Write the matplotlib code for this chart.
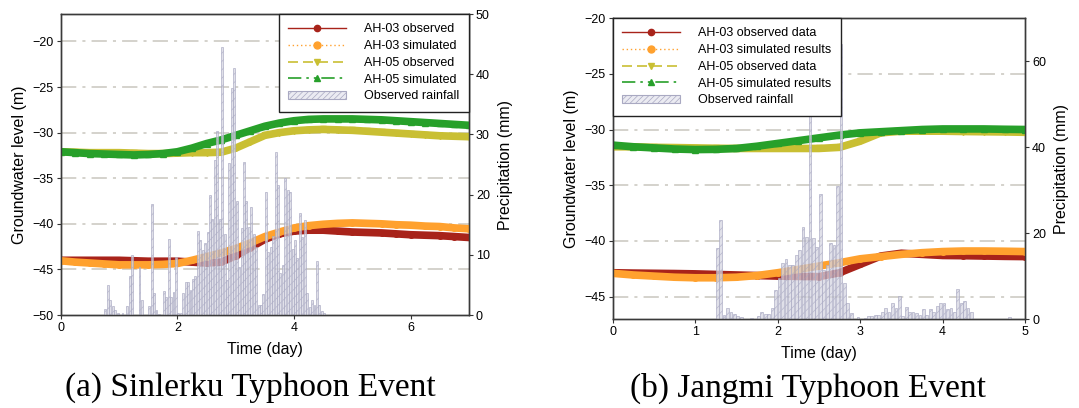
import numpy as np
import matplotlib
matplotlib.use("Agg")
import matplotlib.pyplot as plt
from matplotlib.lines import Line2D
from matplotlib.patches import Patch

plt.rcParams["font.family"] = ["Liberation Sans", "DejaVu Sans"]
plt.rcParams["hatch.linewidth"] = 0.5

# ── (a) Sinlerku: groundwater level (m), sampled every 0.25 day ──
t_a = [0, 0.25, 0.5, 0.75, 1, 1.25, 1.5, 1.75, 2, 2.25, 2.5, 2.75, 3, 3.25, 3.5,
       3.75, 4, 4.25, 4.5, 4.75, 5, 5.25, 5.5, 5.75, 6, 6.25, 6.5, 6.75, 7]
ah03_obs_a = [-44.0, -44.0, -44.0, -44.0, -44.0, -44.05, -44.1, -44.1, -44.1, -44.2, -44.3,
              -44.2, -43.5, -42.6, -41.7, -41.1, -40.8, -40.7, -40.7, -40.8, -40.9, -40.95,
              -41.0, -41.1, -41.2, -41.25, -41.3, -41.4, -41.5]
ah03_sim_a = [-44.05, -44.2, -44.3, -44.4, -44.5, -44.5, -44.5, -44.45, -44.35, -44.0, -43.6,
              -43.2, -42.7, -42.1, -41.4, -40.9, -40.45, -40.2, -40.05, -39.95, -39.9, -39.95,
              -40.0, -40.1, -40.15, -40.25, -40.3, -40.45, -40.55]
ah05_obs_a = [-32.1, -32.15, -32.2, -32.2, -32.2, -32.25, -32.3, -32.3, -32.25, -32.2, -32.2,
              -32.15, -31.7, -31.0, -30.3, -30.0, -29.8, -29.7, -29.65, -29.7, -29.75, -29.85,
              -29.95, -30.05, -30.15, -30.25, -30.35, -30.4, -30.45]
ah05_sim_a = [-32.1, -32.2, -32.3, -32.35, -32.4, -32.45, -32.4, -32.3, -32.1, -31.7, -31.2,
              -30.8, -30.3, -29.8, -29.3, -28.95, -28.7, -28.55, -28.5, -28.5, -28.5, -28.55,
              -28.6, -28.7, -28.8, -28.9, -29.0, -29.1, -29.2]
# hourly rainfall (mm), first value at day 0.75
rain_a_start = 0.75
rain_a = [1.0, 5.0, 2.5, 1.5, 0.8, 0.4, 0.0, 0.4, 0.0, 1.5, 6.5, 10.0, 0.0, 0.0, 8.0, 2.5,
          0.0, 0.0, 1.5, 18.5, 3.6, 0.8, 0.2, 0.0, 4.0, 3.0, 12.6, 3.0, 3.9, 9.7, 0.3, 0.3,
          3.6, 5.5, 5.5, 4.2, 6.0, 6.4, 14.0, 12.5, 10.8, 12.0, 13.8, 20.0, 16.0, 25.7, 30.6,
          16.0, 44.6, 13.5, 5.8, 25.2, 37.7, 41.0, 19.0, 8.0, 14.5, 25.5, 19.0, 14.7, 18.0,
          13.5, 11.3, 1.7, 1.7, 3.5, 20.5, 10.5, 11.3, 13.2, 27.0, 21.6, 6.9, 8.3, 22.7, 20.8,
          20.5, 11.0, 12.5, 9.4, 16.9, 13.0, 15.8, 3.6, 1.4, 2.5, 1.7, 9.0, 1.7, 0.6, 0.3]

# ── (b) Jangmi ──
t_b = [0, 0.25, 0.5, 0.75, 1, 1.25, 1.5, 1.75, 2, 2.25, 2.5, 2.75, 3, 3.25, 3.5,
       3.75, 4, 4.25, 4.5, 4.75, 5]
ah03_obs_b = [-42.85, -42.88, -42.9, -42.92, -42.95, -43.0, -43.05, -43.1, -43.15, -43.18, -43.2,
              -42.85, -42.1, -41.35, -41.1, -41.2, -41.3, -41.32, -41.35, -41.38, -41.4]
ah03_sim_b = [-42.9, -43.05, -43.15, -43.25, -43.3, -43.3, -43.25, -43.1, -42.85, -42.55, -42.25,
              -41.95, -41.6, -41.4, -41.2, -41.05, -40.95, -40.9, -40.9, -40.92, -40.95]
ah05_obs_b = [-31.55, -31.55, -31.6, -31.62, -31.65, -31.68, -31.7, -31.7, -31.7, -31.7, -31.7,
              -31.6, -31.05, -30.3, -30.15, -30.15, -30.15, -30.18, -30.2, -30.22, -30.25]
ah05_sim_b = [-31.4, -31.55, -31.65, -31.75, -31.8, -31.78, -31.7, -31.5, -31.25, -31.0, -30.75,
              -30.5, -30.3, -30.2, -30.1, -30.0, -29.95, -29.95, -29.95, -29.98, -30.0]
rain_b_start = 1.25
rain_b = [16.5, 23.0, 1.0, 2.6, 1.6, 1.2, 0.8, 0.4, 0.0, 0.0, 0.3, 0.0, 0.6, 1.6, 1.2, 1.2,
          2.6, 6.8, 9.6, 13.0, 14.0, 12.6, 12.6, 15.0, 16.0, 21.4, 19.0, 62.0, 18.8, 16.8,
          29.0, 11.4, 12.6, 17.7, 17.3, 31.0, 64.0, 8.4, 3.7, 1.4,
          0.0, 0.4, 0.0, 0.3, 0.6, 0.6,
          0.9, 0.9, 1.7, 2.5, 1.7, 3.8, 2.5, 5.4, 0.6, 2.9, 1.7, 1.7, 1.4, 0.9, 2.3, 0.9,
          2.3, 1.7, 3.0, 3.8, 3.8, 2.3, 2.5, 1.7, 6.9, 3.8, 4.3, 2.5, 1.7,
          0.0, 0.0, 0.0, 0.0, 0.0, 0.0, 0.0, 0.0, 0.0, 0.0, 0.4]

C_RED, C_ORG, C_OLV, C_GRN = "#a8231a", "#ffa12e", "#c9bf33", "#27a02a"
BAR_FC, BAR_EC = "#d6d6e2", "#a9a9c2"
GRID_C = "#c9c6be"


def draw_panel(ax, t, series, rain, rain_start, xlim, ylim, yticks, rlim, rticks):
    ax2 = ax.twinx()
    # grid lines at the groundwater ticks
    for y in yticks:
        if ylim[0] < y < ylim[1]:
            ax.axhline(y, color=GRID_C, lw=1.1, ls=(0, (10, 4, 2, 4)), zorder=0)
    styles = [(C_RED, "o"), (C_ORG, "o"), (C_OLV, "v"), (C_GRN, "^")]
    for vals, (c, m) in zip(series, styles):
        ax.plot(t, vals, color=c, lw=5.5, marker=m, ms=4, mec=c, zorder=3)

    rt = rain_start + np.arange(len(rain)) / 24.0
    ax2.bar(rt, rain, width=0.8 / 24, align="edge", color=BAR_FC, alpha=0.75,
            edgecolor=BAR_EC, lw=0.6, hatch="////", zorder=2)

    ax.set_xlim(*xlim); ax.set_ylim(*ylim)
    ax.set_yticks(yticks)
    ax2.set_ylim(*rlim); ax2.set_yticks(rticks)
    for a in (ax, ax2):
        a.tick_params(direction="out", length=3, labelsize=9, color="#333333", pad=2)
        for s in a.spines.values():
            s.set_color("#3a3a3a"); s.set_linewidth(1.0)
    ax.set_xlabel("Time (day)", fontsize=11.5, labelpad=6)
    ax.set_ylabel("Groundwater level (m)", fontsize=11.5, labelpad=4)
    ax2.set_ylabel("Precipitation (mm)", fontsize=11.5, labelpad=6)

    handles = [
        Line2D([], [], color=C_RED, lw=1, ls="-", marker="o", ms=4.5),
        Line2D([], [], color=C_ORG, lw=1, ls=(0, (1, 2)), marker="o", ms=5),
        Line2D([], [], color=C_OLV, lw=1.2, ls=(0, (6, 3)), marker="v", ms=5),
        Line2D([], [], color=C_GRN, lw=1.2, ls=(0, (8, 3, 1.5, 3, 1.5, 3)), marker="^", ms=5),
        Patch(facecolor="#ebebf2", edgecolor=BAR_EC, hatch="//////", lw=0.8),
    ]
    return ax2, handles


def add_legend(ax2, handles, labels, loc, anchor):
    leg = ax2.legend(handles, labels, loc=loc, bbox_to_anchor=anchor, borderaxespad=0,
                     fontsize=9, handlelength=4.6, handletextpad=1.5, labelspacing=0.38,
                     fancybox=False, edgecolor="#222222", framealpha=1, borderpad=0.75)
    leg.get_frame().set_linewidth(1.0)


fig = plt.figure(figsize=(10.79, 4.08), dpi=100)
ax_a = fig.add_axes([0.0563, 0.2279, 0.3784, 0.7377])
ax_b = fig.add_axes([0.5678, 0.2181, 0.3823, 0.7377])

ax2_a, h_a = draw_panel(ax_a, t_a, [ah03_obs_a, ah03_sim_a, ah05_obs_a, ah05_sim_a],
                        rain_a, rain_a_start, (0, 7), (-50, -17),
                        [-50, -45, -40, -35, -30, -25, -20], (0, 50), [0, 10, 20, 30, 40, 50])
ax_a.set_xticks([0, 2, 4, 6])
add_legend(ax2_a, h_a, ["AH-03 observed", "AH-03 simulated", "AH-05 observed",
                        "AH-05 simulated", "Observed rainfall"], "upper right", (1, 1))

ax2_b, h_b = draw_panel(ax_b, t_b, [ah03_obs_b, ah03_sim_b, ah05_obs_b, ah05_sim_b],
                        rain_b, rain_b_start, (0, 5), (-47, -20),
                        [-45, -40, -35, -30, -25, -20], (0, 70), [0, 20, 40, 60])
ax_b.set_xticks([0, 1, 2, 3, 4, 5])
add_legend(ax2_b, h_b, ["AH-03 observed data", "AH-03 simulated results", "AH-05 observed data",
                        "AH-05 simulated results", "Observed rainfall"], "upper left", (0, 1))

# captions
fig.text(250 / 1079, 0.049, "(a) Sinlerku Typhoon Event", ha="center", va="center",
         fontsize=24, family=["Liberation Serif", "DejaVu Serif"])
fig.text(808 / 1079, 0.049, "(b) Jangmi Typhoon Event", ha="center", va="center",
         fontsize=24, family=["Liberation Serif", "DejaVu Serif"])

fig.savefig("out.png", dpi=100)
plt.close()
